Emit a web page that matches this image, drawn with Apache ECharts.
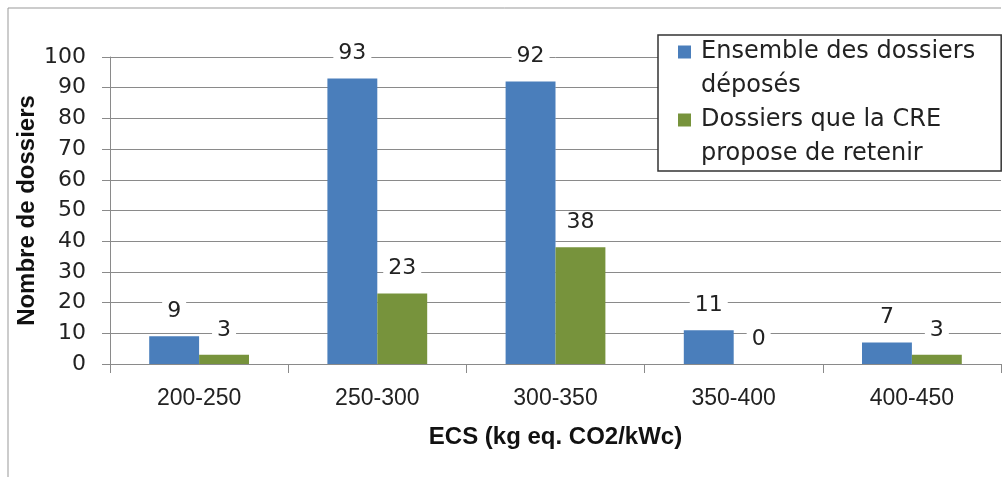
<!DOCTYPE html>
<html>
<head>
<meta charset="utf-8">
<script src="https://cdn.jsdelivr.net/npm/echarts@6/dist/echarts.min.js"></script>
<style>
  html, body { margin: 0; padding: 0; background: #fff; }
  #chart { width: 1007px; height: 477px; }
</style>
</head>
<body>
<div id="chart"></div>
<script>
// Tranches d'empreinte carbone (ECS, kg eq. CO2/kWc)
const categories = ['200-250', '250-300', '300-350', '350-400', '400-450'];
// Nombre de dossiers par tranche
const dossiersDeposes = [9, 93, 92, 11, 7];
const dossiersRetenus = [3, 23, 38, 0, 3];
// Légende, sur deux lignes par série
const legendLines = [
  ['Ensemble des dossiers', 'déposés'],
  ['Dossiers que la CRE', 'propose de retenir']
];
const seriesNames = legendLines.map(l => l.join(' '));
const yAxisTitle = 'Nombre de dossiers';
const xAxisTitle = 'ECS (kg eq. CO2/kWc)';

const BLUE = '#4a7ebb';
const GREEN = '#77933c';
const GRID = '#8a8a8a';
const TEXT = '#222';
const LABEL_FONT = 'DejaVu Sans';
const LEGEND_LINE = 34;

const chart = echarts.init(document.getElementById('chart'), null, { renderer: 'canvas' });

const valueLabel = {
  show: true,
  position: 'top',
  distance: 14,
  fontFamily: LABEL_FONT,
  fontSize: 22,
  color: TEXT,
  backgroundColor: '#fff',
  padding: [0, 5]
};

chart.setOption({
  backgroundColor: '#fff',
  animation: false,
  grid: { left: 110, right: 6, top: 57, bottom: 113, containLabel: false },
  graphic: [
    {
      type: 'polyline',
      silent: true,
      shape: { points: [[8, 477], [8, 8], [1001, 8]] },
      style: { stroke: '#999', lineWidth: 1, fill: null }
    }
  ],
  legend: {
    orient: 'vertical',
    left: 658,
    top: 35,
    padding: [0, 26, 0, 15],
    itemGap: 0,
    itemWidth: 0,
    itemHeight: LEGEND_LINE * 2,
    itemStyle: { opacity: 0 },
    backgroundColor: '#fff',
    borderColor: '#333',
    borderWidth: 1.5,
    borderRadius: 0,
    data: seriesNames,
    formatter: function (name) {
      const i = seriesNames.indexOf(name);
      const sq = i === 0 ? 'sqA' : 'sqB';
      return '{' + sq + '|}{gap|}{t|' + legendLines[i][0] + '}\n{ind|}{t|' + legendLines[i][1] + '}';
    },
    textStyle: {
      fontFamily: LABEL_FONT,
      fontSize: 24,
      color: TEXT,
      rich: {
        sqA: { width: 13, height: 13, backgroundColor: BLUE },
        sqB: { width: 13, height: 13, backgroundColor: GREEN },
        gap: { width: 10 },
        ind: { width: 23 },
        t: { fontFamily: LABEL_FONT, fontSize: 24, lineHeight: LEGEND_LINE, color: TEXT }
      }
    }
  },
  xAxis: {
    type: 'category',
    data: categories,
    name: xAxisTitle,
    nameLocation: 'middle',
    nameGap: 61,
    nameMoveOverlap: false,
    nameTextStyle: {
      fontFamily: 'Liberation Sans',
      fontWeight: 'bold',
      fontSize: 24,
      color: '#111'
    },
    axisLine: { show: true, lineStyle: { color: GRID, width: 1 } },
    axisTick: { show: true, length: 9, lineStyle: { color: GRID, width: 1 } },
    axisLabel: {
      margin: 23,
      fontFamily: 'Liberation Sans',
      fontSize: 23,
      color: TEXT
    },
    splitLine: { show: false }
  },
  yAxis: {
    type: 'value',
    min: 0,
    max: 100,
    interval: 10,
    name: yAxisTitle,
    nameLocation: 'middle',
    nameGap: 71,
    nameMoveOverlap: false,
    nameTextStyle: {
      fontFamily: 'Liberation Sans',
      fontWeight: 'bold',
      fontSize: 24,
      color: '#111'
    },
    axisLine: { show: true, lineStyle: { color: GRID, width: 1 } },
    axisTick: { show: true, length: 8, lineStyle: { color: GRID, width: 1 } },
    axisLabel: {
      margin: 24,
      fontFamily: LABEL_FONT,
      fontSize: 22,
      color: TEXT
    },
    splitLine: { show: true, lineStyle: { color: GRID, width: 1 } }
  },
  series: [
    {
      name: seriesNames[0],
      type: 'bar',
      data: dossiersDeposes,
      barWidth: '28%',
      barGap: '0%',
      itemStyle: { color: BLUE },
      label: valueLabel
    },
    {
      name: seriesNames[1],
      type: 'bar',
      data: dossiersRetenus,
      barWidth: '28%',
      barGap: '0%',
      itemStyle: { color: GREEN },
      label: valueLabel
    }
  ]
});
</script>
</body>
</html>
